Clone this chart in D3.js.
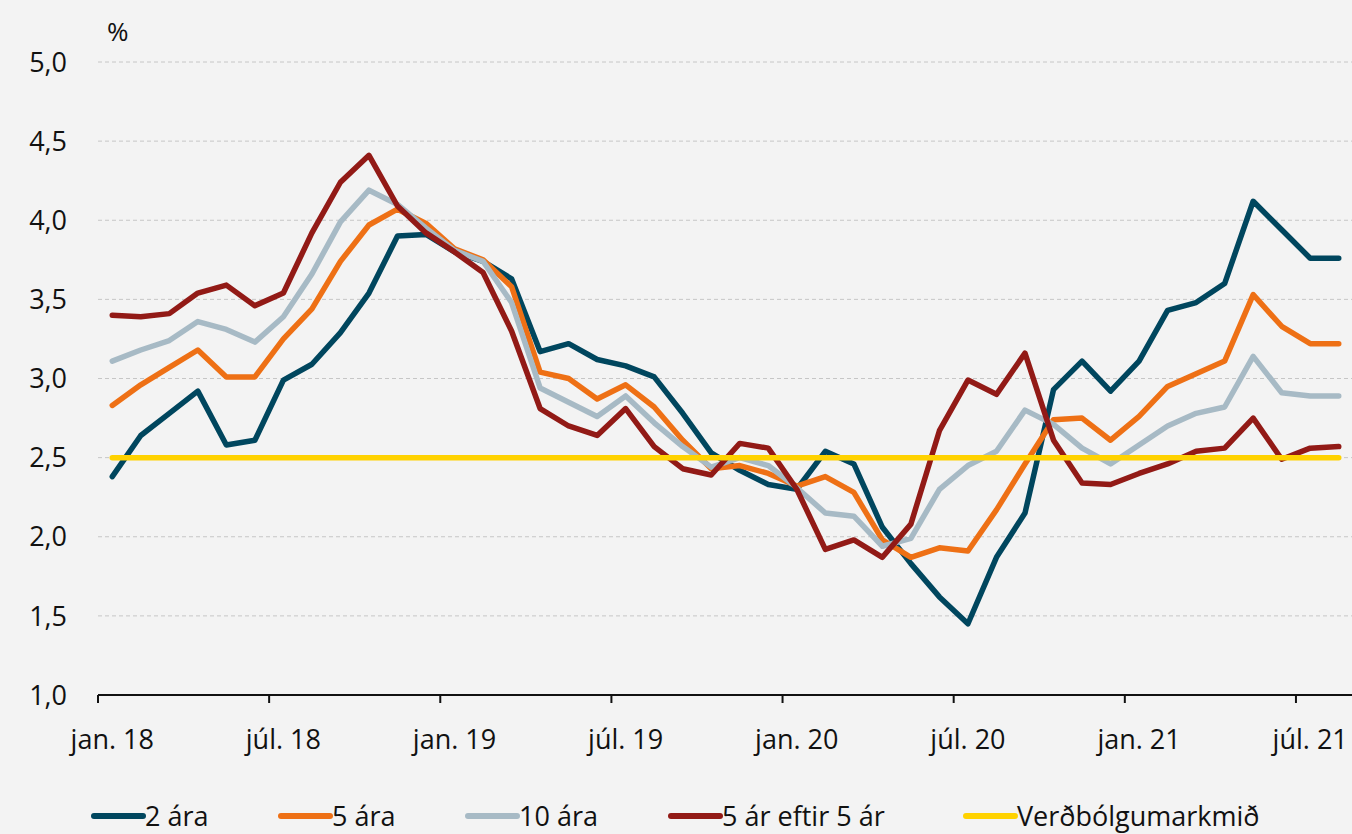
<!DOCTYPE html>
<html><head><meta charset="utf-8">
<script src="https://cdn.jsdelivr.net/npm/d3@7"></script>
<style>
html,body{margin:0;padding:0;background:#f3f3f3;}
svg{display:block;}
text{font-family:"Open Sans","Noto Sans",sans-serif;fill:#111;}
</style></head>
<body>
<svg id="chart" width="1352" height="834"></svg>
<script>
const months = ["jan. 18","feb. 18","mar. 18","apr. 18","maí 18","jún. 18","júl. 18","ágú. 18","sep. 18","okt. 18","nóv. 18","des. 18",
"jan. 19","feb. 19","mar. 19","apr. 19","maí 19","jún. 19","júl. 19","ágú. 19","sep. 19","okt. 19","nóv. 19","des. 19",
"jan. 20","feb. 20","mar. 20","apr. 20","maí 20","jún. 20","júl. 20","ágú. 20","sep. 20","okt. 20","nóv. 20","des. 20",
"jan. 21","feb. 21","mar. 21","apr. 21","maí 21","jún. 21","júl. 21","ágú. 21"];
const tickLabels = ["jan. 18","júl. 18","jan. 19","júl. 19","jan. 20","júl. 20","jan. 21","júl. 21"];
const yTicks = [1.0,1.5,2.0,2.5,3.0,3.5,4.0,4.5,5.0];

const s2 = [2.38,2.64,2.78,2.92,2.58,2.61,2.99,3.09,3.29,3.54,3.90,3.91,
3.80,3.74,3.63,3.17,3.22,3.12,3.08,3.01,2.78,2.53,2.42,2.33,
2.30,2.54,2.46,2.06,1.83,1.62,1.45,1.87,2.15,2.93,3.11,2.92,
3.11,3.43,3.48,3.60,4.12,3.94,3.76,3.76];
const s5 = [2.83,2.96,3.07,3.18,3.01,3.01,3.25,3.44,3.74,3.97,4.07,3.98,
3.82,3.75,3.58,3.04,3.00,2.87,2.96,2.82,2.61,2.43,2.45,2.40,
2.32,2.38,2.28,1.98,1.87,1.93,1.91,2.17,2.46,2.74,2.75,2.61,
2.76,2.95,3.03,3.11,3.53,3.33,3.22,3.22];
const s10 = [3.11,3.18,3.24,3.36,3.31,3.23,3.39,3.66,3.99,4.19,4.10,3.95,
3.81,3.74,3.48,2.94,2.85,2.76,2.89,2.72,2.57,2.44,2.50,2.45,
2.31,2.15,2.13,1.94,1.99,2.30,2.45,2.54,2.80,2.71,2.56,2.46,
2.58,2.70,2.78,2.82,3.14,2.91,2.89,2.89];
const s5a5 = [3.40,3.39,3.41,3.54,3.59,3.46,3.54,3.92,4.24,4.41,4.09,3.92,
3.80,3.67,3.30,2.81,2.70,2.64,2.81,2.57,2.43,2.39,2.59,2.56,
2.30,1.92,1.98,1.87,2.08,2.67,2.99,2.90,3.16,2.61,2.34,2.33,
2.40,2.46,2.54,2.56,2.75,2.49,2.56,2.57];
const target = months.map(() => 2.5);

const seriesNames = ["2 ára","5 ára","10 ára","5 ár eftir 5 ár","Verðbólgumarkmið"];
const seriesColors = ["#00465e","#ee7015","#a7bac5","#921a16","#ffd200"];
const seriesData = [s2, s5, s10, s5a5, target];

const svg = d3.select("#chart");
const plotL = 98, plotR = 1353, plotT = 62, plotB = 695;

const x = d3.scaleBand().domain(months).range([plotL, plotR]).paddingInner(0).paddingOuter(0);
const y = d3.scaleLinear().domain([1, 5]).range([plotB, plotT]);

// gridlines
svg.append("g").selectAll("line").data(yTicks.filter(v => v > 1)).join("line")
  .attr("x1", plotL).attr("x2", 1352)
  .attr("y1", d => y(d)).attr("y2", d => y(d))
  .attr("stroke", "#c6c6c6").attr("stroke-width", 1).attr("stroke-dasharray", "4,3");

// y labels
svg.append("g").selectAll("text").data(yTicks).join("text")
  .attr("x", 67).attr("y", d => y(d)).attr("dy", "0.36em")
  .attr("text-anchor", "end").attr("font-size", 27)
  .text(d => d.toFixed(1).replace(".", ","));

svg.append("text").attr("x", 107).attr("y", 41).attr("font-size", 26).text("%");

// x axis
const gx = svg.append("g").attr("transform", `translate(0,${plotB})`);
gx.append("line").attr("x1", plotL).attr("x2", 1352).attr("y1", 0).attr("y2", 0)
  .attr("stroke", "#111").attr("stroke-width", 2);
const tickIdx = d3.range(0, months.length + 1, 6);
gx.selectAll("line.tk").data(tickIdx).join("line").attr("class", "tk")
  .attr("x1", d => plotL + d * x.step()).attr("x2", d => plotL + d * x.step())
  .attr("y1", 0).attr("y2", 8).attr("stroke", "#111").attr("stroke-width", 2);
gx.selectAll("text.lbl").data(tickLabels).join("text").attr("class", "lbl")
  .attr("x", d => x(d) + x.bandwidth() / 2).attr("y", 54)
  .attr("text-anchor", "middle").attr("font-size", 27).text(d => d);

// lines
const line = d3.line().x((d, i) => x(months[i]) + x.bandwidth() / 2).y(d => y(d));
svg.append("g").selectAll("path").data(seriesData).join("path")
  .attr("d", d => line(d)).attr("fill", "none")
  .attr("stroke", (d, i) => seriesColors[i]).attr("stroke-width", 5.5)
  .attr("stroke-linejoin", "round").attr("stroke-linecap", "round");

// legend
const legX = [94, 281, 468, 671, 966];
const lg = svg.append("g").selectAll("g").data(seriesNames).join("g")
  .attr("transform", (d, i) => `translate(${legX[i]},816)`);
lg.append("line").attr("x1", 0).attr("x2", 49).attr("y1", 0).attr("y2", 0)
  .attr("stroke", (d, i) => seriesColors[i]).attr("stroke-width", 6).attr("stroke-linecap", "round");
lg.append("text").attr("x", 51).attr("y", 10).attr("font-size", 27).text(d => d);
</script>
</body></html>
